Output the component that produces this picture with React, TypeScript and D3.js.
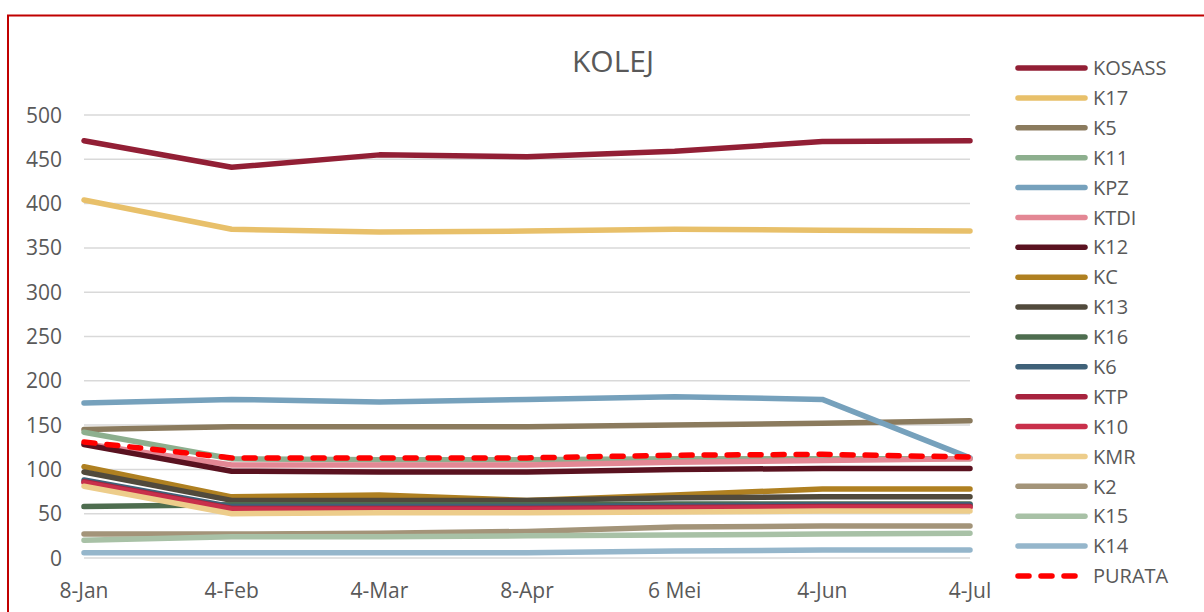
import React from 'react';
import * as d3 from 'd3';

const dates = ['8-Jan', '4-Feb', '4-Mar', '8-Apr', '6 Mei', '4-Jun', '4-Jul'];
const yTicks = [0, 50, 100, 150, 200, 250, 300, 350, 400, 450, 500];

const names = ['KOSASS', 'K17', 'K5', 'K11', 'KPZ', 'KTDI', 'K12', 'KC', 'K13', 'K16', 'K6', 'KTP', 'K10', 'KMR', 'K2', 'K15', 'K14', 'PURATA'];

const kosass = [471, 441, 455, 453, 459, 470, 471];
const k17 = [404, 371, 368, 369, 371, 370, 369];
const k5 = [145, 148, 148, 148, 150, 152, 155];
const k11 = [142, 112, 111, 111, 112, 112, 112];
const kpz = [175, 179, 176, 179, 182, 179, 113];
const ktdi = [129, 105, 105, 105, 108, 110, 112];
const k12 = [128, 98, 97, 97, 100, 101, 101];
const kc = [103, 69, 71, 65, 71, 78, 78];
const k13 = [97, 65, 65, 65, 68, 69, 69];
const k16 = [58, 60, 60, 60, 61, 61, 61];
const k6 = [88, 58, 58, 58, 59, 60, 60];
const ktp = [86, 56, 56, 56, 57, 58, 58];
const k10 = [85, 55, 55, 55, 56, 57, 57];
const kmr = [81, 50, 51, 51, 52, 53, 53];
const k2 = [27, 27, 28, 30, 35, 36, 36];
const k15 = [20, 24, 24, 25, 26, 27, 28];
const k14 = [6, 6, 6, 6, 8, 9, 9];
const purata = [131, 113, 113, 113, 116, 117, 114];

const seriesValues = [kosass, k17, k5, k11, kpz, ktdi, k12, kc, k13, k16, k6, ktp, k10, kmr, k2, k15, k14, purata];
const colors = ['#921F35', '#E8C06A', '#8B7B5E', '#8DAF8E', '#76A1BC', '#E38794', '#5A1220', '#AF8021', '#514A3C', '#4E6D4F', '#3F6178', '#A7233E', '#C9304B', '#EDCD8B', '#A39479', '#A8C1A6', '#95B6CB', '#FF0000'];

const W = 1204;
const H = 612;
const FONT = '"Open Sans", sans-serif';
const TEXT = '#595959';

export default function App() {
  const x = d3.scalePoint<string>().domain(dates).range([84, 970]);
  const y = d3.scaleLinear().domain([0, 500]).range([558, 115]);
  const line = d3
    .line<number>()
    .x((_, i) => x(dates[i]) as number)
    .y((d) => y(d));

  const legendY = d3.scalePoint<string>().domain(names).range([68, 576]);

  return (
    <svg width={W} height={H} style={{ position: 'absolute', left: 0, top: 0, background: '#fff' }}>
      <rect x={8} y={15.5} width={1400} height={800} fill="#fff" stroke="#C00000" strokeWidth={2} />
      <text x={613} y={72} textAnchor="middle" fontFamily={FONT} fontSize={30} fill={TEXT}>
        KOLEJ
      </text>

      {yTicks.map((t) => (
        <g key={t}>
          <line x1={84} x2={970} y1={y(t)} y2={y(t)} stroke="#D9D9D9" strokeWidth={1.5} />
          <text x={62} y={y(t)} dy="0.36em" textAnchor="end" fontFamily={FONT} fontSize={21} fill={TEXT}>
            {t}
          </text>
        </g>
      ))}

      {dates.map((d) => (
        <text key={d} x={x(d)} y={598} textAnchor="middle" fontFamily={FONT} fontSize={21} fill={TEXT}>
          {d}
        </text>
      ))}

      {seriesValues.map((vals, i) => {
        const dashed = names[i] === 'PURATA';
        return (
          <path
            key={names[i]}
            d={line(vals) || ''}
            fill="none"
            stroke={colors[i]}
            strokeWidth={5.5}
            strokeLinecap="round"
            strokeLinejoin="round"
            strokeDasharray={dashed ? '11 12' : undefined}
          />
        );
      })}

      {names.map((n, i) => {
        const ly = legendY(n) as number;
        const dashed = n === 'PURATA';
        return (
          <g key={n}>
            <line
              x1={1018}
              x2={dashed ? 1078 : 1085}
              y1={ly}
              y2={ly}
              stroke={colors[i]}
              strokeWidth={5.5}
              strokeLinecap="round"
              strokeDasharray={dashed ? '11 12' : undefined}
            />
            <text x={1093} y={ly} dy="0.36em" fontFamily={FONT} fontSize={20} fill={TEXT}>
              {n}
            </text>
          </g>
        );
      })}
    </svg>
  );
}
